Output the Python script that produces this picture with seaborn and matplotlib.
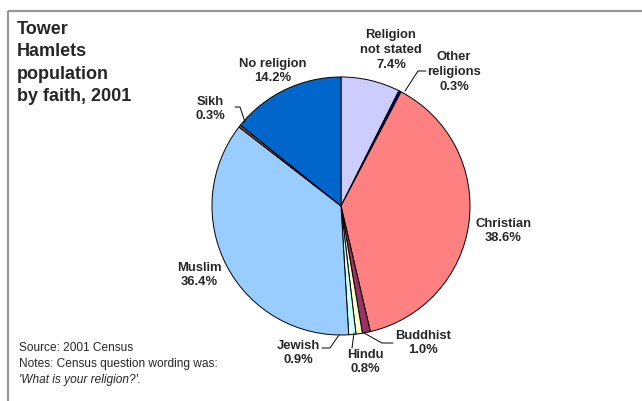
import matplotlib
matplotlib.use("Agg")
import matplotlib.pyplot as plt
import seaborn as sns

faiths = ["Religion not stated", "Other religions", "Christian", "Buddhist", "Hindu",
          "Jewish", "Muslim", "Sikh", "No religion"]
shares = [7.4, 0.3, 38.6, 1.0, 0.8, 0.9, 36.4, 0.3, 14.2]
label_names = ["Religion\nnot stated", "Other\nreligions", "Christian", "Buddhist", "Hindu",
               "Jewish", "Muslim", "Sikh", "No religion"]
colours = ["#CCCCFF", "#000080", "#FF8080", "#993366", "#FFFFCC",
           "#CCFFFF", "#99CCFF", "#A0522D", "#0066CC"]

sns.set_theme(style="white")
plt.rcParams["font.family"] = ["Liberation Sans", "DejaVu Sans"]

W, H = 642, 401
fig = plt.figure(figsize=(6.42, 4.01), dpi=100)
ax = fig.add_axes([0, 0, 1, 1])


def ty(y):
    return H - y


# pie drawn in pixel coordinates
ax.pie(shares, colors=colours, startangle=90, counterclock=False,
       center=(341, ty(206)), radius=129, explode=[0.016] * len(shares),
       wedgeprops=dict(edgecolor="black", linewidth=0.7), frame=True)
ax.set_xlim(0, W)
ax.set_ylim(0, H)
ax.set_aspect("equal")
ax.axis("off")

# label positions (pixel centres of text blocks)
label_pos = {
    "Religion not stated": (391, 50),
    "Other religions": (454, 72),
    "Christian": (503, 231),
    "Buddhist": (423, 343),
    "Hindu": (365, 362),
    "Jewish": (298, 353),
    "Muslim": (199, 275),
    "Sikh": (210, 109),
    "No religion": (273, 71),
}
for name, lab, v in zip(faiths, label_names, shares):
    x, y = label_pos[name]
    ax.text(x, ty(y), f"{lab}\n{v:.1f}%", ha="center", va="center",
            fontsize=9.4, fontweight="bold", linespacing=1.3)

# leader lines
leaders = [
    [(426, 71), (418, 71), (405, 91)],
    [(393, 343), (382, 343), (364, 333)],
    [(352, 348), (354, 333)],
    [(322, 348), (330, 348), (339, 335)],
    [(235, 107), (240, 107), (245, 122)],
]
for pts in leaders:
    ax.plot([p[0] for p in pts], [ty(p[1]) for p in pts], color="black", lw=0.7)

# title
ax.text(17, ty(21), "Tower\nHamlets\npopulation\nby faith, 2001", ha="left", va="top",
        fontsize=13, fontweight="bold", linespacing=1.42)

# source notes
ax.text(19, ty(348), "Source: 2001 Census", ha="left", va="center", fontsize=8.6)
ax.text(19, ty(364), "Notes: Census question wording was:", ha="left", va="center", fontsize=8.6)
ax.text(19, ty(380), "'What is your religion?'.", ha="left", va="center", fontsize=8.6,
        style="italic")

# grey frame (top and left)
ax.plot([8, W], [ty(11), ty(11)], color="#999999", lw=1.6, solid_capstyle="butt")
ax.plot([8, 8], [ty(11), 0], color="#999999", lw=1.6, solid_capstyle="butt")

fig.savefig("out.png", dpi=100)
